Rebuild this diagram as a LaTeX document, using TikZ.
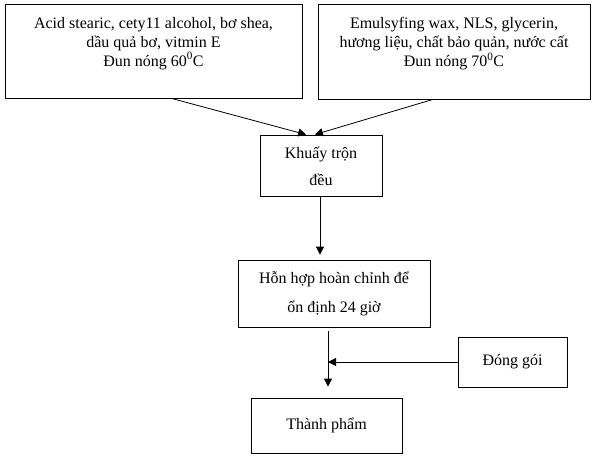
\documentclass[tikz,border=0pt]{standalone}
\usepackage{fontspec}
\setmainfont{Liberation Serif}
\usetikzlibrary{arrows.meta,positioning}

\begin{document}
\begin{tikzpicture}[x=1pt,y=-1pt,box/.style={draw,align=center,line width=0.8pt,
 inner sep=0pt,font=\fontsize{16}{19}\selectfont},
 >={Triangle[length=8pt,width=8pt]},line width=0.8pt]
\useasboundingbox (0,0) rectangle (593,458);
\node[box,minimum width=297pt,minimum height=94pt,text depth=19pt] (oil) at (153.5,51)
 {Acid stearic, cety11 alcohol, bơ shea,\\dầu quả bơ, vitmin E\\Đun nóng 60\textsuperscript{0}C};
\node[box,minimum width=272pt,minimum height=95pt,text depth=19pt] (water) at (454,51.5)
 {Emulsyfing wax, NLS, glycerin,\\hương liệu, chất bảo quản, nước cất\\Đun nóng 70\textsuperscript{0}C};
\node[box,minimum width=122pt,minimum height=61pt,font=\fontsize{16}{27}\selectfont] (mix) at (321,166)
 {Khuấy trộn\\đều};
\node[box,minimum width=192pt,minimum height=67pt,font=\fontsize{16}{29}\selectfont] (rest) at (334,293.5)
 {Hỗn hợp hoàn chỉnh để\\ổn định 24 giờ};
\node[box,minimum width=109pt,minimum height=50pt] (pack) at (512.5,362) {Đóng gói};
\node[box,minimum width=151pt,minimum height=55pt] (prod) at (326.5,425.5) {Thành phẩm};
\coordinate (j) at (328,362);
\draw[->,shorten >=2pt] ([xshift=18pt]oil.south) -- ([xshift=-13pt]mix.north);
\draw[->,shorten >=2pt] ([xshift=-21pt]water.south) -- ([xshift=-8pt]mix.north);
\draw[->,shorten >=5pt] ([xshift=-1pt]mix.south) -- ([xshift=-14pt]rest.north);
\draw[->,shorten <=4pt,shorten >=11pt] (rest.south -| j) -- (prod.north -| j);
\draw[->] (pack.west) -- (j);
\end{tikzpicture}
\end{document}
